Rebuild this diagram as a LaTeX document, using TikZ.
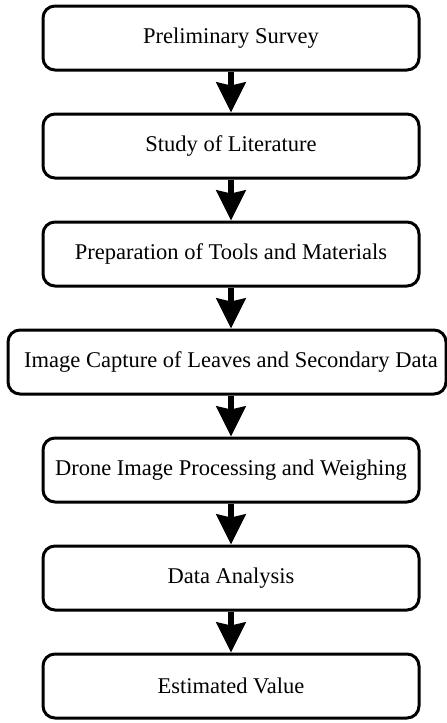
\documentclass[tikz,border=0pt]{standalone}
\usepackage{fontspec}
\setmainfont{Liberation Serif}
\usetikzlibrary{arrows.meta}
\begin{document}
\begin{tikzpicture}[x=1pt,y=-1pt,
  stepbox/.style={draw=black, line width=3pt, rounded corners=12pt, fill=white,
    minimum width=376pt, minimum height=64pt, inner sep=0pt,
    font=\fontsize{22.5}{27}\selectfont},
  flowarrow/.style={line width=6pt, -{Stealth[length=30pt,width=29pt,inset=3pt]}}]
\fill[white] (0,0) rectangle (447,723);
\useasboundingbox (0,0) rectangle (447,723);
\node[stepbox] (b1) at (231,38) {Preliminary Survey};
\node[stepbox] (b2) at (231,146) {Study of Literature};
\node[stepbox] (b3) at (231,254) {Preparation of Tools and Materials};
\node[stepbox, minimum width=438pt] (b4) at (227,362) {};
\node[font=\fontsize{22.5}{27}\selectfont] (t4) at (231,362) {Image Capture of Leaves and Secondary Data};
\node[stepbox] (b5) at (231,470) {Drone Image Processing and Weighing};
\node[stepbox] (b6) at (231,578) {Data Analysis};
\node[stepbox] (b7) at (231,686) {Estimated Value};
\draw[flowarrow] (b1.south) -- (b2.north);
\draw[flowarrow] (b2.south) -- (b3.north);
\draw[flowarrow] (b3.south) -- (b3.south |- b4.north);
\draw[flowarrow] (b5.north |- b4.south) -- (b5.north);
\draw[flowarrow] (b5.south) -- (b6.north);
\draw[flowarrow] (b6.south) -- (b7.north);
\end{tikzpicture}
\end{document}
